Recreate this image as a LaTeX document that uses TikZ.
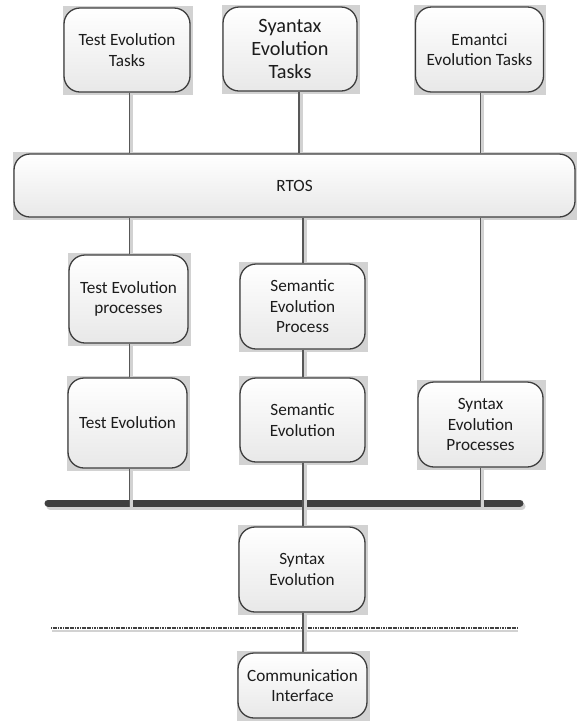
\documentclass[tikz,border=0pt]{standalone}
\usepackage{fontspec}
\setmainfont{Carlito}
\usetikzlibrary{backgrounds}

\definecolor{edgegray}{HTML}{3E3E3E}
\definecolor{wiregray}{HTML}{585858}
\definecolor{shadegray}{HTML}{D2D2D2}
\definecolor{busgray}{HTML}{404040}
\definecolor{inkgray}{HTML}{1C1C1C}

\tikzset{
  box/.style={draw=edgegray, line width=1.3pt, rounded corners=16pt,
    top color=white, bottom color=black!9, align=center, inner sep=0pt,
    text=inkgray, font=\fontsize{17.2}{20.5}\selectfont},
  bigtext/.style={font=\fontsize{20.3}{23}\selectfont},
  wire/.style={draw=wiregray, line width=1.1pt,
    preaction={draw=shadegray, line width=3pt, transform canvas={xshift=2.4pt}}},
  bus/.style={draw=busgray, line width=7pt, line cap=round},
  busshadow/.style={draw=shadegray, line width=7pt, line cap=round},
  sepline/.style={draw=busgray, line width=2.2pt, dash pattern=on 1.2pt off 0.5pt},
  sepshadow/.style={draw=shadegray, line width=2pt},
  boxshadow/.style={fill=shadegray}
}

\begin{document}
\begin{tikzpicture}[x=1pt,y=-1pt]
\useasboundingbox (0,0) rectangle (577,721);

% tasks
\node[box, minimum width=126pt, minimum height=84pt] (t1) at (127,50) {Test Evolution\\Tasks};
\node[box, bigtext, minimum width=134pt, minimum height=84pt] (t2) at (290,49) {Syantax\\Evolution\\Tasks};
\node[box, minimum width=128pt, minimum height=85pt] (t3) at (479.5,49.5) {Emantci\\Evolution Tasks};

% operating system
\node[box, minimum width=561pt, minimum height=63pt] (rtos) at (294.5,185.5) {RTOS};

% processes
\node[box, minimum width=119pt, minimum height=88pt] (tep) at (128.5,299) {Test Evolution\\processes};
\node[box, minimum width=125pt, minimum height=85pt] (sep) at (302.5,306.5) {Semantic\\Evolution\\Process};
\node[box, minimum width=119pt, minimum height=90pt] (te) at (127.5,423) {Test Evolution};
\node[box, minimum width=125pt, minimum height=84pt] (se) at (302.5,420) {Semantic\\Evolution};
\node[box, minimum width=125pt, minimum height=85pt] (syp) at (480.5,424.5) {Syntax\\Evolution\\Processes};

% lower stack
\node[box, minimum width=126pt, minimum height=85pt] (sye) at (302,569.5) {Syntax\\Evolution};
\node[box, minimum width=129pt, minimum height=65pt] (comm) at (302.5,685.5) {Communication\\Interface};

% column positions of the connectors
\coordinate (ca) at (129.5,0);
\coordinate (cb) at (303,0);
\coordinate (cbt) at (299,0);
\coordinate (cc) at (480.5,0);

% bus and separator
\coordinate (busL) at (48,503);
\coordinate (busR) at (520,503);
\coordinate (busB) at (0,507);
\coordinate (busT) at (0,499);
\coordinate (sepL) at (51,628);
\coordinate (sepR) at (517,628);

\begin{scope}[on background layer]
  \foreach \n in {t1,t2,t3,rtos,tep,sep,te,se,syp,sye,comm}
    \fill[boxshadow] ([xshift=-0.5pt,yshift=-2.5pt]\n.south west) rectangle ([xshift=2pt,yshift=1pt]\n.north east);

  \draw[busshadow] ([shift={(2pt,-3pt)}]busL) -- ([shift={(2pt,-3pt)}]busR);
  \draw[bus] (busL) -- (busR);

  \draw[sepshadow] ([shift={(1pt,-2.5pt)}]sepL) -- ([shift={(1pt,-2.5pt)}]sepR);
  \draw[sepline] (sepL) -- (sepR);

  % tasks to RTOS
  \draw[wire] (t1.south -| ca) -- (rtos.north -| ca);
  \draw[wire] (t2.south -| cbt) -- (rtos.north -| cbt);
  \draw[wire] (t3.south -| cc) -- (rtos.north -| cc);

  % RTOS to processes
  \draw[wire] (rtos.south -| ca) -- (tep.north -| ca);
  \draw[wire] (rtos.south -| cb) -- (sep.north -| cb);
  \draw[wire] (rtos.south -| cc) -- (syp.north -| cc);
  \draw[wire] (tep.south -| ca) -- (te.north -| ca);
  \draw[wire] (sep.south -| cb) -- (se.north -| cb);

  % processes to bus
  \draw[wire] (te.south -| ca) -- (ca |- busB);
  \draw[wire] (se.south -| cb) -- (cb |- busB);
  \draw[wire] (syp.south -| cc) -- (cc |- busB);

  % bus to lower stack
  \draw[wire] (cb |- busT) -- (sye.north -| cb);
  \draw[wire] (sye.south -| cb) -- (comm.north -| cb);
\end{scope}
\end{tikzpicture}
\end{document}
